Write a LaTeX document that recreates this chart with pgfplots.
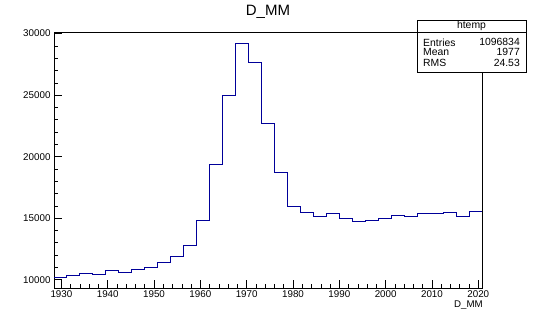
\documentclass[border=0pt]{standalone}
\usepackage{fontspec}
\setmainfont{Liberation Sans}
\usepackage{pgfplots}
\pgfplotsset{compat=1.18}
\definecolor{rootblue}{RGB}{0,0,153}
\begin{document}
\begin{tikzpicture}[x=1pt,y=1pt]
\useasboundingbox (0,0) rectangle (536,321);
\begin{axis}[
  at={(54pt,33pt)}, anchor=south west,
  scale only axis, width=428pt, height=256pt,
  xmin=1928.4, xmax=2020.8, ymin=9324, ymax=30130,
  xtick={1930,1940,...,2020}, ytick={10000,15000,...,30000},
  minor x tick num=4, minor y tick num=4,
  tick align=inside, xtick pos=lower, ytick pos=left,
  major tick length=8pt, minor tick length=4pt,
  scaled ticks=false,
  /pgf/number format/1000 sep={},
  /pgf/number format/assume math mode=true,
  tick label style={font=\fontsize{9.8}{11}\selectfont},
  xticklabel style={inner sep=2pt},
  axis line style={line width=0.8pt},
  every tick/.style={black, line width=0.6pt},
  clip=false,
]
\addplot[const plot, rootblue, line width=1pt] coordinates {
(1928.4,10217) (1931.2,10380) (1934.0,10540) (1936.8,10460) (1939.6,10730)
(1942.4,10600) (1945.2,10790) (1948.0,11030) (1950.8,11360) (1953.6,11900)
(1956.4,12770) (1959.2,14800) (1962.0,19330) (1964.8,24950) (1967.6,29190)
(1970.4,27640) (1973.2,22670) (1976.0,18680) (1978.8,15970) (1981.6,15430)
(1984.4,15160) (1987.2,15350) (1990.0,14970) (1992.8,14700) (1995.6,14800)
(1998.4,14970) (2001.2,15240) (2004.0,15160) (2006.8,15350) (2009.6,15350)
(2012.4,15430) (2015.2,15100) (2018.0,15510) (2020.8,15510)
};
\end{axis}
\node[font=\fontsize{15}{17}\selectfont] at (268,309) {D\_MM};
\node[font=\fontsize{9.7}{11}\selectfont, anchor=east, inner sep=0pt] at (483,16) {D\_MM};
\fill[white] (417,249) rectangle (526,301);
\draw[line width=0.7pt] (417,249) rectangle (526,301);
\draw[line width=0.7pt] (417,289) -- (526,289);
\begin{scope}[every node/.style={font=\fontsize{10.4}{11}\selectfont, inner sep=0pt}]
\node at (471.5,295.3) {htemp};
\node[anchor=west] at (423,278.7) {Entries};
\node[anchor=east] at (520,278.7) {1096834};
\node[anchor=west] at (423,268.7) {Mean};
\node[anchor=east] at (520,268.7) {1977};
\node[anchor=west] at (423,257.7) {RMS};
\node[anchor=east] at (520,257.7) {24.53};
\end{scope}
\end{tikzpicture}
\end{document}
